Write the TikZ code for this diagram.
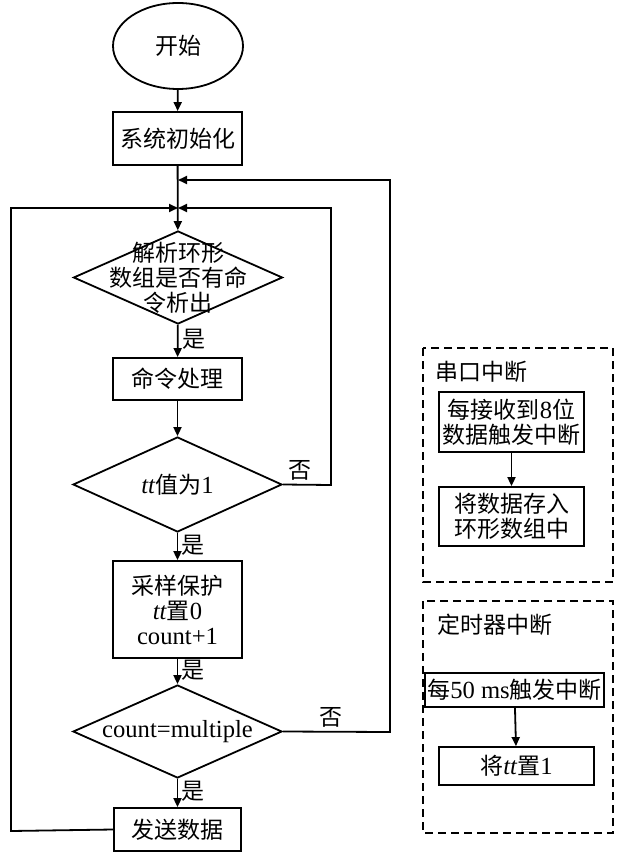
\documentclass[tikz,border=0pt]{standalone}
\usepackage{fontspec}
\setmainfont{Liberation Serif}[Scale=1.07]
\newfontfamily\cjk{Noto Sans CJK SC}
\usepackage{tikz}
\usetikzlibrary{positioning,shapes.geometric,arrows.meta,calc}

\newcommand{\zh}[1]{{\cjk #1}}

\begin{document}
\begin{tikzpicture}[x=1pt, y=-1pt, line width=1.8pt,
    font=\fontsize{23}{25}\selectfont,
    terminal/.style={draw, ellipse, inner sep=0pt, minimum width=130, minimum height=86},
    procbox/.style={draw, rectangle, inner sep=0pt, align=center},
    decision/.style={draw, diamond, inner sep=0pt, minimum width=209, minimum height=93},
    flow/.style={-{Triangle[length=9pt,width=8pt]}},
    dashbox/.style={draw, dash pattern=on 8pt off 5pt, line width=1.4pt}]
    \useasboundingbox (0,0) rectangle (625,858);

    % main flow
    \node[terminal] (start) at (178,46) {\zh{开始}};
    \node[procbox, minimum width=129, minimum height=53] (init) at (177.5,138.5) {\zh{系统初始化}};
    \node[decision, label={[align=center]center:\zh{解析环形}\\\zh{数组是否有命}\\\zh{令析出}}] (parse) at (178,277.5) {};
    \node[procbox, minimum width=129, minimum height=42] (cmd) at (177.5,379) {\zh{命令处理}};
    \node[decision, minimum height=95, label={center:\textit{tt}\zh{值为}1}] (ttchk) at (177.5,484.5) {};
    \node[procbox, minimum width=129, minimum height=97] (sample) at (177.5,609.5)
        {\zh{采样保护}\\\textit{tt}\zh{置}0\\count+1};
    \node[decision, label={center:count=multiple}] (cntchk) at (177.5,731.5) {};
    \node[procbox, minimum width=127, minimum height=43] (send) at (177.5,829.5) {\zh{发送数据}};

    \coordinate (merge1) at (178,180);
    \coordinate (merge2) at (178,208);
    \coordinate (loopA) at (331,485);
    \coordinate (loopB) at (390,732);
    \coordinate (loopC) at (11,831);

    \draw[flow] (start) -- (init);
    \draw[flow] (init) -- (parse);
    \draw[flow] (parse) -- node[right, pos=0.45] {\zh{是}} (cmd);
    \draw[flow] (cmd) -- (ttchk);
    \draw[flow] (ttchk) -- node[right, pos=0.45] {\zh{是}} (sample);
    \draw[flow] (sample) -- node[right, pos=0.45] {\zh{是}} (cntchk);
    \draw[flow] (cntchk) -- node[right, pos=0.45] {\zh{是}} (send);

    % loops back
    \draw[flow] (ttchk.east) -- node[above, pos=0.35] {\zh{否}} (loopA) |- (merge2);
    \draw[flow] (cntchk.east) -- node[above, pos=0.45] {\zh{否}} (loopB) |- (merge1);
    \draw[flow] (send.west) -- (loopC) |- (merge2);

    % serial interrupt
    \draw[dashbox] (423,348) rectangle (613,582);
    \node[anchor=west] (uart) at (431,372) {\zh{串口中断}};
    \node[procbox, minimum width=145, minimum height=60] (recv) at (511.5,422)
        {\zh{每接收到}8\zh{位}\\\zh{数据触发中断}};
    \node[procbox, minimum width=145, minimum height=59] (store) at (511.5,516.5)
        {\zh{将数据存入}\\\zh{环形数组中}};
    \draw[flow] (recv) -- (store);

    % timer interrupt
    \draw[dashbox] (423,601) rectangle (613,833);
    \node[anchor=west] (timer) at (433,625) {\zh{定时器中断}};
    \node[procbox, minimum width=179, minimum height=34] (trig) at (514.5,690)
        {\zh{每}50 ms\zh{触发中断}};
    \node[procbox, minimum width=155, minimum height=38] (setflag) at (516.5,766)
        {\zh{将}\textit{tt}\zh{置}1};
    \draw[flow] (trig) -- (setflag);
\end{tikzpicture}
\end{document}
